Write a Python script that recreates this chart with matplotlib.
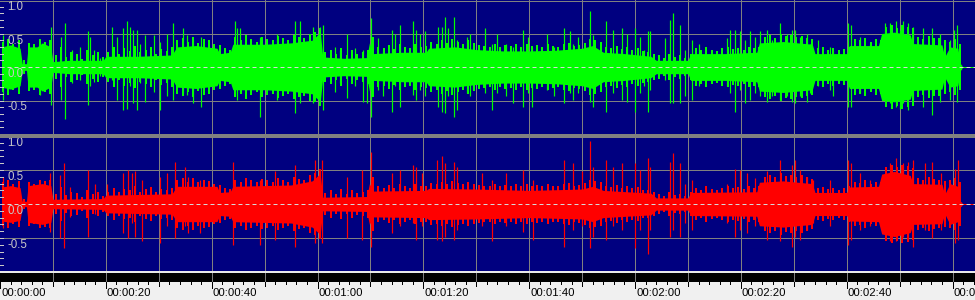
import matplotlib
matplotlib.use("Agg")
import matplotlib.pyplot as plt
import numpy as np
from matplotlib.patches import Rectangle
from matplotlib.transforms import blended_transform_factory as blend

# ---------------- data ----------------
W, H = 975, 300
PX_PER_S = 5.292            # horizontal scale of the waveform view
T_MAX = W / PX_PER_S        # seconds visible across the window

# green (left) channel: dense body envelope (time s, amplitude)
green_body_t = [0.3, 2, 3.8, 4.2, 5.0, 5.3, 7, 8, 9.6, 10.0, 13, 16, 19.5, 20, 26, 32.5,
                33.4, 37, 41, 41.5, 43.5, 44, 50, 55, 59, 60.5, 61.0, 65, 69.3, 69.8,
                70.5, 76, 80.5, 81, 86, 90, 95, 100, 105, 110, 112, 114, 118, 123, 124,
                130, 130.5, 137, 143, 143.5, 148, 153.5, 154, 160, 160.5, 166, 166.6,
                169, 172, 172.5, 178, 178.5, 179.5, 181, 181.5, 181.8]
green_body_a = [0.30, 0.33, 0.28, 0.05, 0.05, 0.30, 0.30, 0.36, 0.30, 0.08, 0.10, 0.10,
                0.10, 0.16, 0.16, 0.18, 0.30, 0.32, 0.28, 0.20, 0.22, 0.34, 0.34, 0.36,
                0.40, 0.52, 0.15, 0.13, 0.14, 0.36, 0.20, 0.22, 0.22, 0.28, 0.30, 0.26,
                0.24, 0.24, 0.25, 0.28, 0.32, 0.22, 0.20, 0.16, 0.10, 0.10, 0.20, 0.20,
                0.22, 0.36, 0.38, 0.34, 0.20, 0.20, 0.32, 0.32, 0.50, 0.52, 0.48, 0.35,
                0.33, 0.15, 0.30, 0.28, 0.05, 0.02]

# green channel: per-second column peaks (texture of the dense part), t = 0..181 s
green_grain = [0.38, 0.42, 0.35, 0.40, 0.10, 0.36, 0.34, 0.42, 0.38, 0.40,
               0.18, 0.30, 0.15, 0.22, 0.20, 0.12, 0.25, 0.18, 0.22, 0.15,
               0.22, 0.30, 0.20, 0.28, 0.24, 0.32, 0.22, 0.26, 0.30, 0.20, 0.27, 0.24, 0.30,
               0.40, 0.44, 0.38, 0.45, 0.36, 0.42, 0.40, 0.35, 0.33, 0.28, 0.25,
               0.45, 0.40, 0.48, 0.42, 0.38, 0.45, 0.42, 0.40, 0.46, 0.44, 0.40, 0.48, 0.45,
               0.44, 0.50, 0.52, 0.58,
               0.22, 0.25, 0.20, 0.28, 0.18, 0.25, 0.20, 0.22, 0.26, 0.45,
               0.30, 0.28, 0.33, 0.27, 0.35, 0.30, 0.28, 0.34, 0.30, 0.32,
               0.38, 0.35, 0.40, 0.36, 0.42, 0.38, 0.35, 0.40, 0.36, 0.33,
               0.32, 0.30, 0.35, 0.30, 0.33, 0.31, 0.34, 0.30, 0.35, 0.32,
               0.33, 0.30, 0.35, 0.32, 0.30, 0.34, 0.36, 0.31, 0.33, 0.36,
               0.42, 0.40, 0.38,
               0.30, 0.28, 0.32, 0.27, 0.30, 0.26, 0.28, 0.24, 0.22, 0.20,
               0.18, 0.14, 0.20, 0.15, 0.18, 0.14, 0.20,
               0.28, 0.25, 0.30, 0.26, 0.24, 0.28, 0.30, 0.27, 0.29, 0.26, 0.30, 0.28, 0.30,
               0.45, 0.48, 0.44, 0.50, 0.46, 0.48, 0.45, 0.47, 0.44, 0.42,
               0.28, 0.30, 0.26, 0.28, 0.25, 0.27, 0.30,
               0.42, 0.40, 0.44, 0.38, 0.42, 0.40,
               0.60, 0.62, 0.58, 0.63, 0.60, 0.58,
               0.45, 0.42, 0.46, 0.44, 0.43, 0.40,
               0.38, 0.42, 0.35]

# green channel: individual peaks (time s, positive peak, negative peak)
green_spike_t = [0.63, 7.56, 9.57, 11.53, 12.28, 13.54, 15.12, 16.57, 17.0, 17.83, 18.9,
                 21.23, 22.05, 23.31, 23.94, 24.57, 25.2, 25.83, 26.46, 27.4, 29.16,
                 30.23, 31.5, 32.75, 34.64, 35.27, 36.53, 37.98, 44.4, 44.72, 45.35,
                 49.13, 52.28, 55.74, 56.69, 59.2, 60.47, 61.1, 63.3, 64.25, 65.5, 67.1,
                 68.66, 69.3, 70.1, 71.5, 72.4, 74.0, 74.6, 75.6, 78.1, 78.7, 79.4, 80.3,
                 82.8, 83.5, 84.1, 84.7, 85.7, 86.3, 88.2, 88.8, 89.4, 91.7, 92.9, 93.9,
                 95.7, 97.0, 98.9, 99.8, 100.5, 103.3, 104.6, 106.5, 107.7, 108.3, 109.3,
                 111.5, 112.1, 114.6, 115.9, 117.5, 118.4, 120.0, 121.0, 121.6, 122.5,
                 122.8, 125.7, 126.6, 127.2, 128.5, 129.4, 130.7, 132.0, 137.3, 137.9,
                 138.9, 139.8, 140.8, 141.7, 142.7, 143.6, 144.9, 145.8, 147.4, 148.7,
                 149.6, 150.2, 151.2, 152.4, 153.1, 154.6, 156.8, 157.5, 160.3, 160.9,
                 162.5, 164.4, 167.2, 168.2, 169.4, 170.1, 170.7, 171.6, 172.6, 174.5,
                 176.05, 177.6, 179.5, 180.2, 180.8]
green_spike_up = [0.48, 0.38, 0.60, 0.45, 0.65, 0.25, 0.30, 0.53, 0.45, 0.25, 0.13,
                  0.60, 0.45, 0.58, 0.68, 0.60, 0.55, 0.55, 0.35, 0.48, 0.48,
                  0.38, 0.50, 0.65, 0.58, 0.48, 0.40, 0.45, 0.68, 0.58, 0.58,
                  0.45, 0.50, 0.68, 0.68, 0.60, 0.60, 0.63, 0.30, 0.25, 0.50, 0.28,
                  0.25, 0.20, 0.73, 0.43, 0.25, 0.55, 0.50, 0.63, 0.68, 0.55, 0.50, 0.53,
                  0.60, 0.60, 0.75, 0.58, 0.75, 0.40, 0.45, 0.50, 0.30, 0.58, 0.35, 0.50,
                  0.35, 0.30, 0.55, 0.45, 0.30, 0.50, 0.30, 0.58, 0.53, 0.35, 0.45,
                  0.83, 0.48, 0.68, 0.55, 0.58, 0.50, 0.58, 0.45, 0.25, 0.53,
                  0.53, 0.43, 0.70, 0.80, 0.63, 0.25, 0.40, 0.35, 0.43, 0.55,
                  0.55, 0.53, 0.40, 0.53, 0.45, 0.53, 0.55, 0.40, 0.65, 0.50,
                  0.55, 0.55, 0.45, 0.50, 0.35, 0.40, 0.30, 0.25, 0.65, 0.63,
                  0.45, 0.35, 0.65, 0.65, 0.68, 0.55, 0.68, 0.65, 0.60, 0.58,
                  0.58, 0.50, 0.40, 0.55, 0.63]
green_spike_dn = [0.49, 0.42, 0.57, 0.49, 0.77, 0.24, 0.19, 0.57, 0.29, 0.22, 0.14,
                  0.19, 0.49, 0.64, 0.62, 0.29, 0.54, 0.64, 0.24, 0.52, 0.37,
                  0.64, 0.44, 0.49, 0.39, 0.42, 0.54, 0.60, 0.44, 0.49, 0.39,
                  0.74, 0.49, 0.69, 0.54, 0.54, 0.49, 0.64, 0.37, 0.24, 0.47, 0.29,
                  0.52, 0.54, 0.74, 0.34, 0.44, 0.67, 0.29, 0.59, 0.42, 0.49, 0.34, 0.44,
                  0.59, 0.67, 0.69, 0.44, 0.74, 0.64, 0.39, 0.44, 0.34, 0.39, 0.64, 0.39,
                  0.44, 0.54, 0.59, 0.39, 0.59, 0.34, 0.44, 0.54, 0.39, 0.49, 0.39,
                  0.52, 0.59, 0.67, 0.39, 0.49, 0.52, 0.67, 0.39, 0.29, 0.67,
                  0.34, 0.19, 0.54, 0.54, 0.54, 0.44, 0.49, 0.29, 0.29, 0.39,
                  0.67, 0.34, 0.54, 0.49, 0.39, 0.44, 0.52, 0.44, 0.49, 0.44,
                  0.52, 0.54, 0.44, 0.52, 0.39, 0.29, 0.34, 0.44, 0.59, 0.59,
                  0.39, 0.34, 0.49, 0.54, 0.59, 0.62, 0.54, 0.64, 0.49, 0.59,
                  0.72, 0.52, 0.49, 0.39, 0.52]

# red (right) channel: dense body envelope
red_body_t = [0.3, 2, 3.8, 4.2, 5.0, 5.3, 8, 9.6, 10, 19.5, 20, 32.5, 33.4, 41, 41.5,
              43.5, 44, 55, 59, 60.5, 61, 69.3, 69.8, 70.5, 80.5, 81, 90, 100, 110, 112,
              114, 123, 124, 130, 130.5, 143, 143.5, 148, 153.5, 154, 160, 160.5, 166,
              166.6, 169, 172, 172.5, 178, 178.5, 179.5, 181, 181.5, 181.8]
red_body_a = [0.25, 0.27, 0.24, 0.04, 0.04, 0.27, 0.30, 0.27, 0.07, 0.08, 0.13, 0.15,
              0.26, 0.26, 0.17, 0.18, 0.26, 0.28, 0.34, 0.45, 0.10, 0.11, 0.30, 0.19,
              0.20, 0.23, 0.22, 0.20, 0.22, 0.26, 0.20, 0.16, 0.09, 0.09, 0.17, 0.18,
              0.32, 0.34, 0.30, 0.17, 0.17, 0.25, 0.26, 0.44, 0.48, 0.42, 0.30, 0.29,
              0.14, 0.30, 0.26, 0.04, 0.02]

# red channel: per-second column peaks, t = 0..181 s
red_grain = [0.32, 0.36, 0.30, 0.34, 0.08, 0.33, 0.30, 0.36, 0.34, 0.35,
             0.15, 0.25, 0.13, 0.18, 0.16, 0.10, 0.20, 0.15, 0.18, 0.12,
             0.18, 0.24, 0.17, 0.22, 0.20, 0.26, 0.18, 0.22, 0.25, 0.17, 0.22, 0.20, 0.24,
             0.35, 0.38, 0.33, 0.38, 0.32, 0.36, 0.34, 0.30, 0.28, 0.24, 0.22,
             0.36, 0.33, 0.38, 0.35, 0.32, 0.37, 0.35, 0.33, 0.38, 0.36, 0.33, 0.40, 0.37,
             0.36, 0.42, 0.45, 0.52,
             0.16, 0.20, 0.15, 0.22, 0.14, 0.20, 0.16, 0.18, 0.20, 0.40,
             0.26, 0.24, 0.28, 0.23, 0.30, 0.26, 0.24, 0.29, 0.26, 0.27,
             0.31, 0.29, 0.33, 0.30, 0.34, 0.31, 0.29, 0.33, 0.30, 0.28,
             0.27, 0.26, 0.30, 0.26, 0.28, 0.27, 0.29, 0.26, 0.30, 0.27,
             0.28, 0.26, 0.30, 0.27, 0.26, 0.29, 0.31, 0.27, 0.28, 0.31,
             0.36, 0.34, 0.32,
             0.27, 0.25, 0.28, 0.24, 0.26, 0.23, 0.25, 0.21, 0.20, 0.18,
             0.15, 0.12, 0.17, 0.13, 0.15, 0.12, 0.17,
             0.24, 0.21, 0.26, 0.22, 0.20, 0.24, 0.26, 0.23, 0.25, 0.22, 0.26, 0.24, 0.26,
             0.40, 0.43, 0.39, 0.45, 0.41, 0.43, 0.40, 0.42, 0.39, 0.37,
             0.23, 0.25, 0.22, 0.24, 0.21, 0.23, 0.26,
             0.33, 0.31, 0.35, 0.30, 0.33, 0.32,
             0.55, 0.58, 0.54, 0.58, 0.56, 0.53,
             0.38, 0.36, 0.40, 0.37, 0.36, 0.34,
             0.36, 0.38, 0.32]

# red channel: individual peaks
red_spike_t = [0.63, 9.45, 11.34, 12.16, 13.23, 16.57, 17.95, 20.16, 23.31, 24.12, 24.88,
               25.51, 26.77, 30.23, 31.5, 33.07, 34.96, 35.6, 37.8, 44.1, 49.13, 51.97,
               55.74, 59.5, 60.8, 65.5, 68.34, 70.1, 74.0, 75.6, 78.1, 78.7, 79.7, 82.5,
               83.5, 84.1, 85.7, 86.3, 91.0, 92.9, 95.7, 98.9, 100.8, 106.5, 108.3,
               109.9, 111.5, 112.1, 114.6, 115.9, 117.5, 120.0, 121.0, 122.5, 122.8,
               126.6, 127.2, 128.5, 129.4, 130.7, 137.3, 138.9, 139.8, 141.1, 142.7,
               144.9, 147.4, 149.6, 150.2, 151.2, 152.4, 153.7, 156.8, 160.3, 160.9,
               162.5, 164.4, 168.2, 169.4, 170.7, 171.6, 172.6, 174.8, 176.05, 177.9,
               180.5, 181.1]
red_spike_up = [0.40, 0.45, 0.43, 0.60, 0.25, 0.50, 0.30, 0.30, 0.45, 0.50, 0.45,
                0.48, 0.35, 0.40, 0.45, 0.62, 0.55, 0.40, 0.35, 0.62, 0.35, 0.48,
                0.57, 0.65, 0.65, 0.40, 0.50, 0.77, 0.45, 0.50, 0.57, 0.55, 0.45, 0.65,
                0.70, 0.60, 0.62, 0.55, 0.45, 0.35, 0.45, 0.50, 0.35, 0.65, 0.60,
                0.48, 0.92, 0.55, 0.65, 0.55, 0.60, 0.60, 0.50, 0.67, 0.55,
                0.62, 0.75, 0.60, 0.30, 0.35, 0.30, 0.52, 0.50, 0.45, 0.38,
                0.48, 0.65, 0.57, 0.65, 0.50, 0.40, 0.35, 0.35, 0.65, 0.60,
                0.45, 0.35, 0.60, 0.67, 0.60, 0.62, 0.65, 0.60, 0.62, 0.45,
                0.52, 0.65]
red_spike_dn = [0.36, 0.41, 0.50, 0.65, 0.19, 0.48, 0.14, 0.14, 0.43, 0.50, 0.28,
                0.48, 0.55, 0.58, 0.33, 0.50, 0.33, 0.43, 0.43, 0.60, 0.60, 0.53,
                0.63, 0.58, 0.58, 0.50, 0.53, 0.63, 0.43, 0.33, 0.28, 0.53, 0.33, 0.53,
                0.55, 0.48, 0.53, 0.38, 0.33, 0.55, 0.33, 0.41, 0.53, 0.63, 0.38,
                0.33, 0.65, 0.48, 0.53, 0.33, 0.38, 0.65, 0.38, 0.73, 0.38,
                0.48, 0.38, 0.48, 0.28, 0.38, 0.28, 0.48, 0.38, 0.43, 0.33,
                0.53, 0.55, 0.63, 0.48, 0.53, 0.38, 0.28, 0.33, 0.60, 0.53,
                0.38, 0.33, 0.55, 0.55, 0.48, 0.53, 0.63, 0.38, 0.50, 0.38,
                0.58, 0.53]

amp_labels = ["1.0", "0.5", "0.0", "-0.5"]
amp_values = [1.0, 0.5, 0.0, -0.5]
time_label_secs = [0, 20, 40, 60, 80, 100, 120, 140, 160, 180]
time_labels = ["00:00:00", "00:00:20", "00:00:40", "00:01:00", "00:01:20",
               "00:01:40", "00:02:00", "00:02:20", "00:02:40", "00:03:00"]

# ---------------- styling ----------------
BG = "#000080"
GRID = "#808080"
LABEL = "#c8c8c8"
FONT = ["Liberation Sans", "DejaVu Sans"]
PX = 72 / 100  # one pixel in points

fig = plt.figure(figsize=(W / 100, H / 100), dpi=100)
fig.patch.set_facecolor("#f0f0f0")


def px_axes(top, bottom, bg):
    ax = fig.add_axes([0, 1 - bottom / H, 1, (bottom - top) / H])
    ax.set_facecolor(bg)
    ax.set_xticks([])
    ax.set_yticks([])
    for sp in ax.spines.values():
        sp.set_visible(False)
    return ax


def wave_panel(ax, color, body_t, body_a, grain, sp_t, sp_up, sp_dn):
    ax.set_xlim(0, T_MAX)
    ax.set_ylim(-1, 1)
    for s in range(10, int(T_MAX) + 1, 10):
        ax.axvline(s, color=GRID, lw=PX, zorder=1)
    for v in (0.5, -0.5):
        ax.axhline(v, color=GRID, lw=PX, zorder=1)
    bt = np.asarray(body_t)
    ba = np.asarray(body_a)
    ax.fill_between(bt, -ba, ba, color=color, lw=0, zorder=2)
    g = np.asarray(grain)
    gt = np.arange(len(g)) + 0.5
    ax.vlines(gt, -g, g, color=color, lw=2 * PX, zorder=2)
    ax.vlines(sp_t, -np.asarray(sp_dn), np.asarray(sp_up), color=color,
              lw=1.2 * PX, zorder=3)
    ax.plot([body_t[-1], T_MAX], [0, 0], color=color, lw=PX, zorder=3)
    ax.axhline(0, color="#d8d8d8", lw=PX, dashes=(4, 3), zorder=4)
    # small amplitude ticks on the left edge
    for v in np.arange(-0.9, 1.0, 0.1):
        ax.plot([0, 3 / PX_PER_S], [v, v], color=LABEL, lw=PX, zorder=5)
    tr = blend(ax.transAxes, ax.transData)
    for lab, v in zip(amp_labels, amp_values):
        ax.annotate(lab, xy=(7 / W, v), xycoords=tr, xytext=(0, -7 * PX),
                    textcoords="offset points", ha="left", va="center",
                    color=LABEL, fontsize=8.3, family=FONT, zorder=6)


ax1 = px_axes(0, 134, BG)
wave_panel(ax1, "#00ff00", green_body_t, green_body_a, green_grain,
           green_spike_t, green_spike_up, green_spike_dn)
ax1.axhline(1 - 0.5 / 67, color=GRID, lw=PX, zorder=1)

ax2 = px_axes(136, 272, BG)
wave_panel(ax2, "#ff0000", red_body_t, red_body_a, red_grain,
           red_spike_t, red_spike_up, red_spike_dn)

# separator band between the two channels
fig.patches.append(Rectangle((0, 1 - 138 / H), 1, 4 / H, transform=fig.transFigure,
                             facecolor="#808080", edgecolor="none", zorder=10))

# time ruler
ax3 = px_axes(271, 300, "#f0f0f0")
ax3.set_xlim(0, T_MAX)
ax3.set_ylim(300, 271)
ax3.axhspan(271, 273, color="#e8e8e8", lw=0)
ax3.axhspan(273, 281.5, color="#000000", lw=0)
for s in range(10, int(T_MAX) + 1, 10):
    ax3.plot([s, s], [273, 281.5], color=GRID, lw=PX)
for s in range(0, int(T_MAX) + 1, 2):
    if s % 20 == 0:
        y2 = 288
    elif s % 10 == 0:
        y2 = 286
    else:
        y2 = 283.5
    ax3.plot([s, s], [281.5, y2], color="#000000", lw=PX)
for s, lab in zip(time_label_secs, time_labels):
    ax3.text(s + 1 / PX_PER_S, 292.5, lab, ha="left", va="center",
             fontsize=8.2, family=FONT, color="#000000")

fig.savefig("out.png", dpi=100, facecolor=fig.get_facecolor())
